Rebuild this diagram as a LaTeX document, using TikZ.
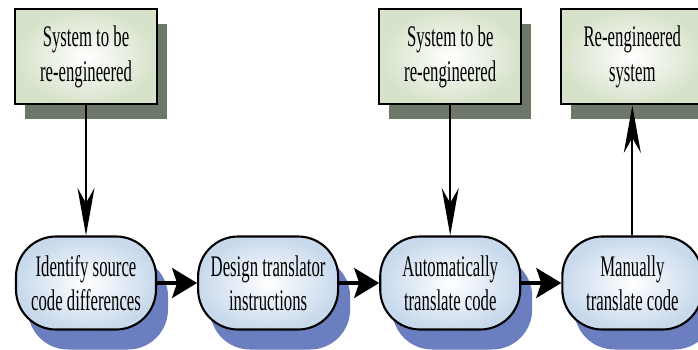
\documentclass[tikz,border=0pt]{standalone}
\usepackage{fontspec}
\setmainfont{Liberation Serif}[FakeStretch=0.56]
\usetikzlibrary{positioning,shadows,arrows.meta}
\definecolor{sysfill}{HTML}{D6E2CA}
\definecolor{sysshadow}{HTML}{6E7868}
\definecolor{stepfill}{HTML}{C8D9EC}
\definecolor{stepshadow}{HTML}{6B7EBF}
\tikzstyle{system} = [rectangle, minimum width=2.84cm, minimum height=1.9cm, text centered, align=center, draw=black, line width=1.3pt, inner color=white, outer color=sysfill, font=\fontsize{17}{19.5}\selectfont, drop shadow={shadow xshift=0.2cm, shadow yshift=-0.3cm, fill=sysshadow, opacity=1}]
\tikzstyle{stepbox} = [rectangle, rounded corners=0.8cm, minimum width=2.8cm, minimum height=1.86cm, text centered, align=center, draw=black, line width=1.2pt, inner color=white, outer color=stepfill, font=\fontsize{17}{19.5}\selectfont, drop shadow={shadow xshift=0.24cm, shadow yshift=-0.4cm, fill=stepshadow, opacity=1}]
\tikzstyle{flow} = [-{Stealth[length=0.5cm,width=0.6cm,inset=0.1cm]}, line width=1.8pt]
\tikzstyle{feed} = [-{Stealth[length=0.95cm,width=0.34cm,inset=0.3cm]}, line width=1pt]

\begin{document}
\begin{tikzpicture}[node distance=0.8cm]
        \useasboundingbox (-1.72,-1.32) rectangle (12.24,5.66);
        \node (identify) [stepbox] at (0,0) {Identify source\\code differences};
        \node (design) [stepbox,right=of identify] {Design translator\\instructions};
        \node (automatic) [stepbox,right=of design] {Automatically\\translate code};
        \node (manual) [stepbox,right=of automatic] {Manually\\translate code};
        \node (source-system) [system,above=2.6cm of identify] {System to be\\re-engineered};
        \node (source-system-2) [system,above=2.6cm of automatic] {System to be\\re-engineered};
        \node (target-system) [system,above=2.6cm of manual] {Re-engineered\\system};

        \draw [flow] (identify) -- (design);
        \draw [flow] (design) -- (automatic);
        \draw [flow] (automatic) -- (manual);
        \draw [feed] (source-system) -- (identify);
        \draw [feed] (source-system-2) -- (automatic);
        \draw [feed] (manual) -- (target-system);
    \end{tikzpicture}
\end{document}
